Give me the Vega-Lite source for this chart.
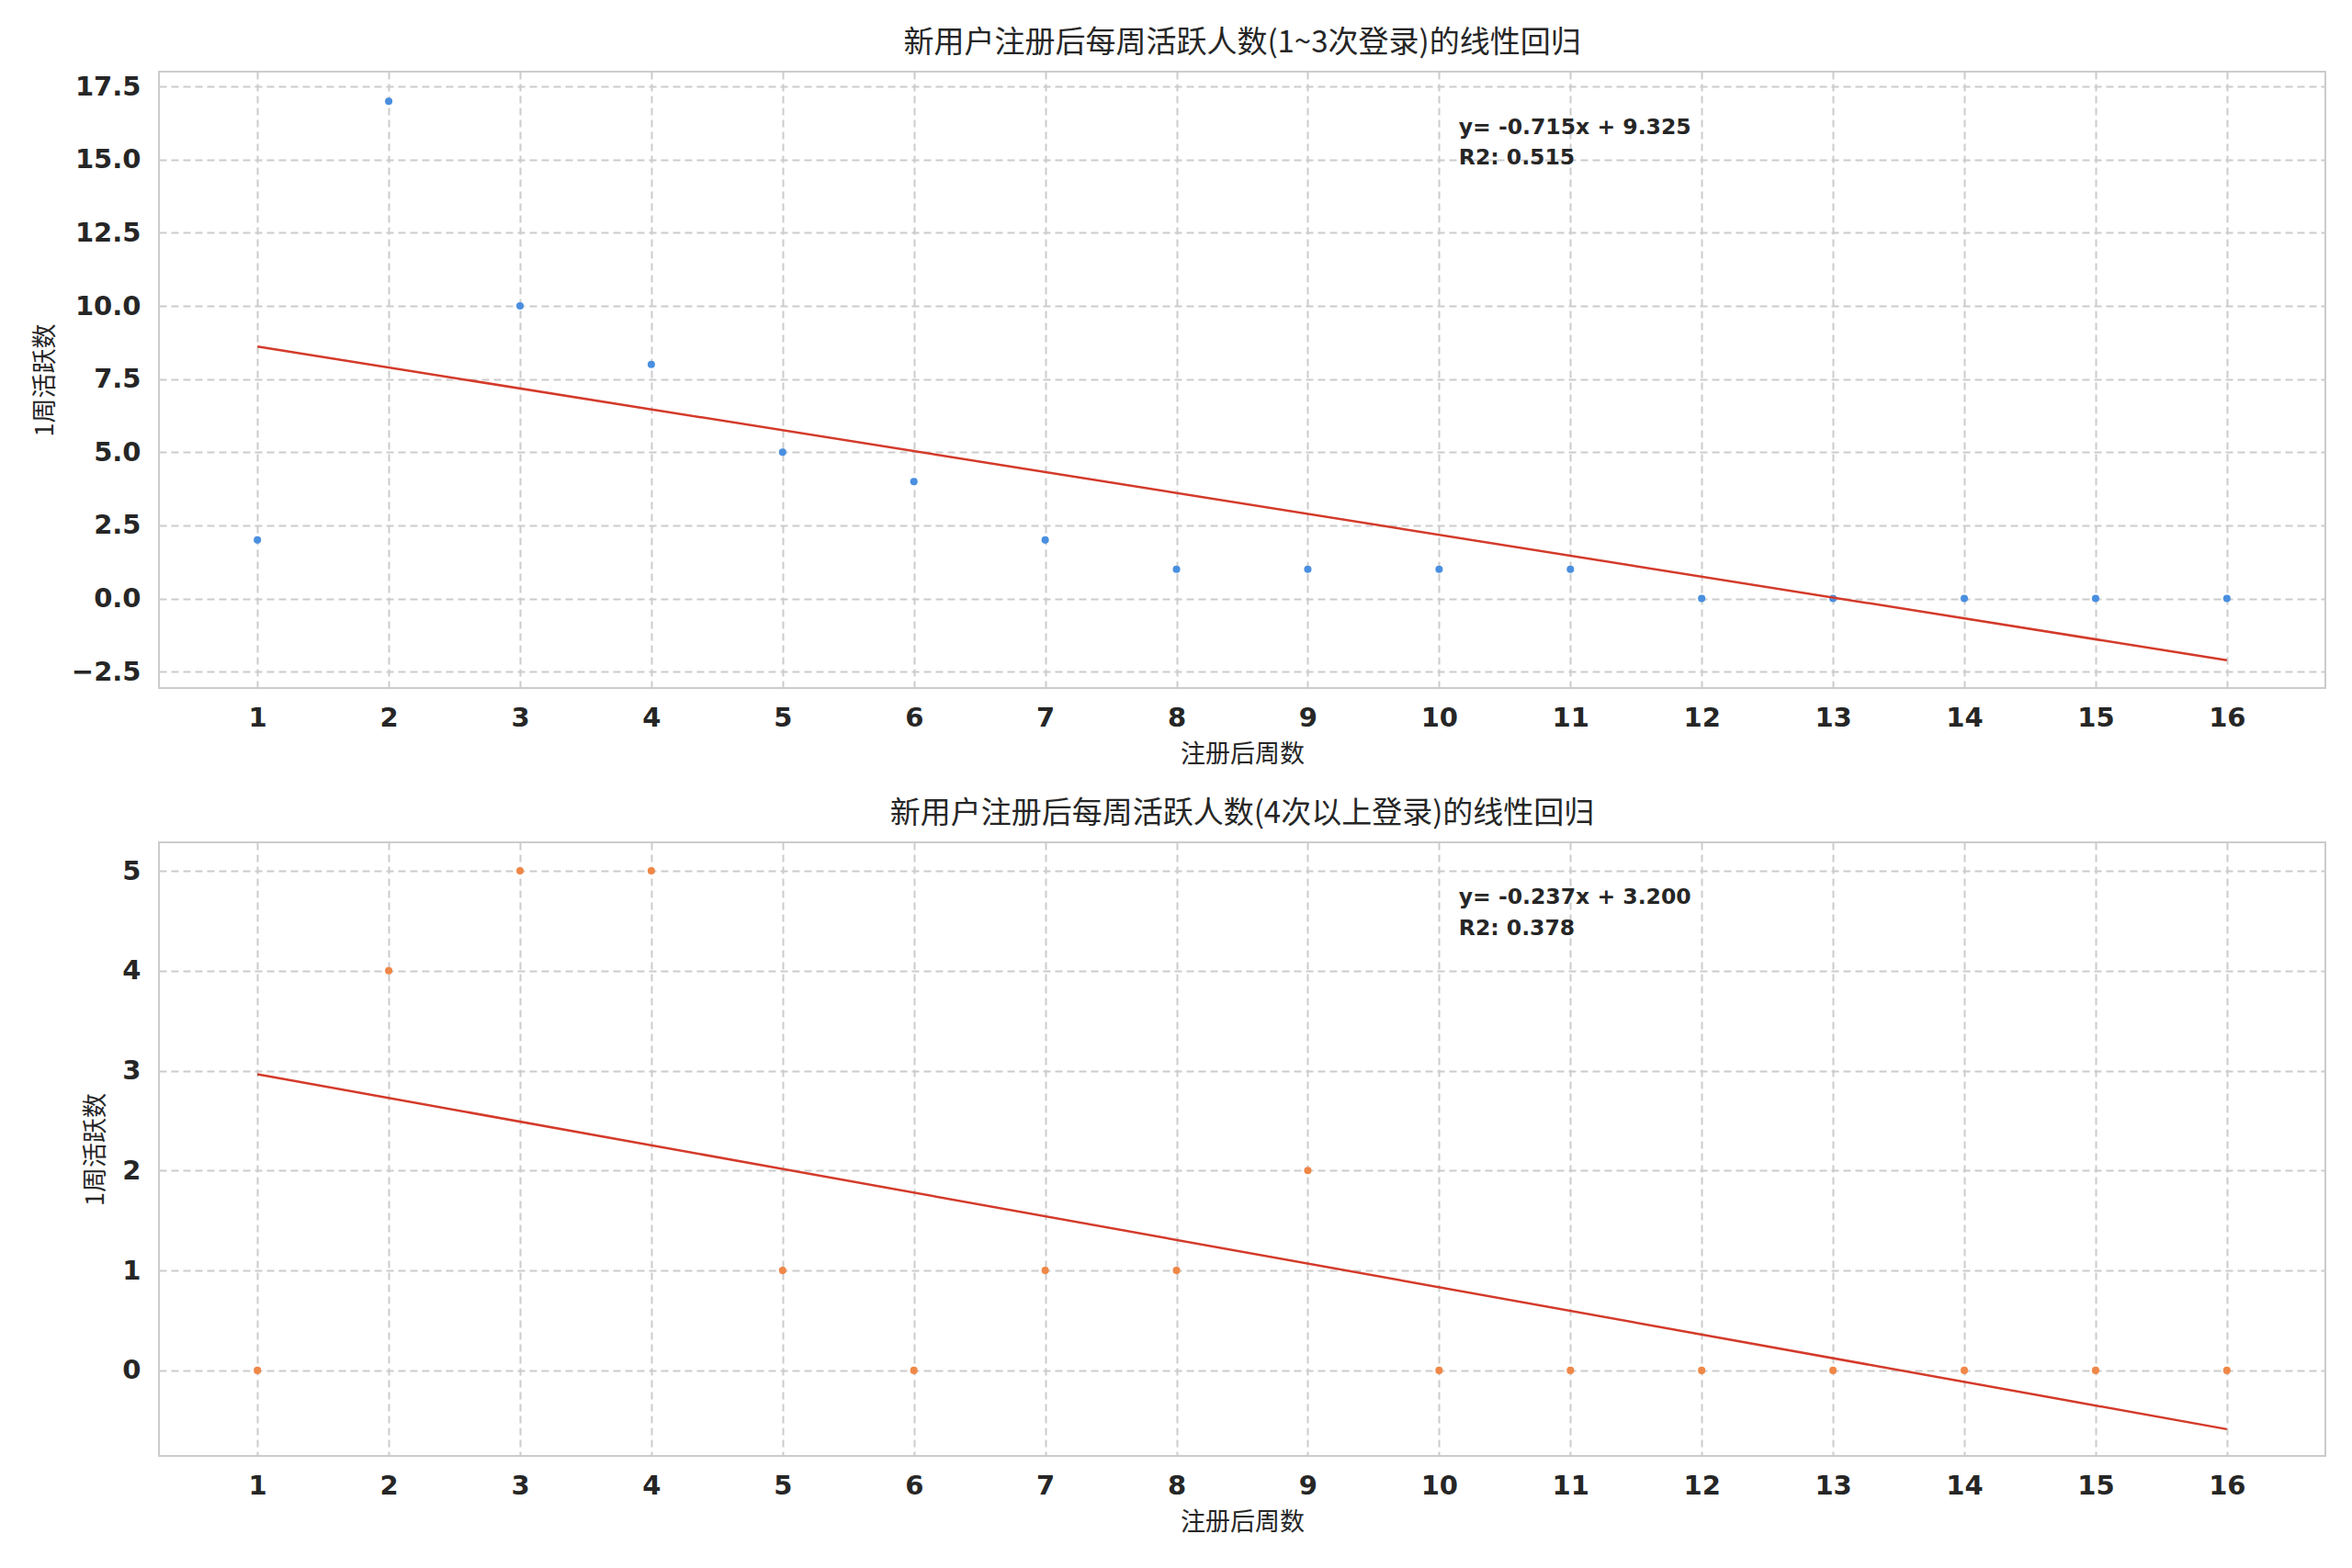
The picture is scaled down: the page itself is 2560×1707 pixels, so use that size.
{
  "$schema": "https://vega.github.io/schema/vega-lite/v6.json",
  "background": "white",
  "padding": {"left": 34, "top": 30, "right": 25, "bottom": 10},
  "spacing": 34,
  "config": {
    "view": {"stroke": "#cccccc", "strokeWidth": 2},
    "axis": {
      "grid": true, "gridColor": "#cccccc", "gridDash": [8, 5], "gridWidth": 2,
      "domain": false, "ticks": false,
      "labelFont": "DejaVu Sans", "labelFontWeight": "bold", "labelFontSize": 29, "labelColor": "#262626",
      "titleFont": "Noto Sans CJK SC", "titleFontWeight": "normal", "titleFontSize": 27, "titleColor": "#262626"
    },
    "title": {"font": "Noto Sans CJK SC", "fontSize": 33, "fontWeight": "normal", "color": "#262626", "offset": 14}
  },
  "datasets": {
    "low": [
      {"week": 1, "count": 2}, {"week": 2, "count": 17}, {"week": 3, "count": 10}, {"week": 4, "count": 8},
      {"week": 5, "count": 5}, {"week": 6, "count": 4}, {"week": 7, "count": 2}, {"week": 8, "count": 1},
      {"week": 9, "count": 1}, {"week": 10, "count": 1}, {"week": 11, "count": 1}, {"week": 12, "count": 0},
      {"week": 13, "count": 0}, {"week": 14, "count": 0}, {"week": 15, "count": 0}, {"week": 16, "count": 0}
    ],
    "high": [
      {"week": 1, "count": 0}, {"week": 2, "count": 4}, {"week": 3, "count": 5}, {"week": 4, "count": 5},
      {"week": 5, "count": 1}, {"week": 6, "count": 0}, {"week": 7, "count": 1}, {"week": 8, "count": 1},
      {"week": 9, "count": 2}, {"week": 10, "count": 0}, {"week": 11, "count": 0}, {"week": 12, "count": 0},
      {"week": 13, "count": 0}, {"week": 14, "count": 0}, {"week": 15, "count": 0}, {"week": 16, "count": 0}
    ],
    "notes": [
      {"panel": "low", "week": 10.15, "count": 16.1, "label": "y= -0.715x + 9.325"},
      {"panel": "low", "week": 10.15, "count": 15.05, "label": "R2: 0.515"},
      {"panel": "high", "week": 10.15, "count": 4.73, "label": "y= -0.237x + 3.200"},
      {"panel": "high", "week": 10.15, "count": 4.42, "label": "R2: 0.378"}
    ]
  },
  "vconcat": [
    {
      "title": "新用户注册后每周活跃人数(1~3次登录)的线性回归",
      "width": 2358, "height": 671,
      "layer": [
        {
          "data": {"name": "low"},
          "mark": {"type": "point", "filled": true, "size": 65, "opacity": 1, "color": "#4a8fdf"},
          "encoding": {
            "x": {"field": "week", "type": "quantitative", "title": "注册后周数",
                  "scale": {"domain": [0.25, 16.75], "nice": false, "zero": false},
                  "axis": {"values": [1,2,3,4,5,6,7,8,9,10,11,12,13,14,15,16], "format": "d", "labelPadding": 18, "titlePadding": 12}},
            "y": {"field": "count", "type": "quantitative", "title": "1周活跃数",
                  "scale": {"domain": [-3.06, 18.01], "nice": false, "zero": false},
                  "axis": {"values": [-2.5, 0, 2.5, 5, 7.5, 10, 12.5, 15, 17.5], "format": ".1f", "labelPadding": 20, "titlePadding": 14}}
          }
        },
        {
          "data": {"name": "low"},
          "transform": [{"regression": "count", "on": "week", "extent": [1, 16]}],
          "mark": {"type": "line", "color": "#d43a2a", "strokeWidth": 2.5},
          "encoding": {
            "x": {"field": "week", "type": "quantitative"},
            "y": {"field": "count", "type": "quantitative"}
          }
        },
        {
          "data": {"name": "notes"},
          "transform": [{"filter": "datum.panel == 'low'"}],
          "mark": {"type": "text", "align": "left", "baseline": "middle", "font": "DejaVu Sans", "fontWeight": "bold", "fontSize": 23.5, "color": "#262626"},
          "encoding": {
            "x": {"field": "week", "type": "quantitative"},
            "y": {"field": "count", "type": "quantitative"},
            "text": {"field": "label"}
          }
        }
      ]
    },
    {
      "title": "新用户注册后每周活跃人数(4次以上登录)的线性回归",
      "width": 2358, "height": 668,
      "layer": [
        {
          "data": {"name": "high"},
          "mark": {"type": "point", "filled": true, "size": 65, "opacity": 1, "color": "#ef8747"},
          "encoding": {
            "x": {"field": "week", "type": "quantitative", "title": "注册后周数",
                  "scale": {"domain": [0.25, 16.75], "nice": false, "zero": false},
                  "axis": {"values": [1,2,3,4,5,6,7,8,9,10,11,12,13,14,15,16], "format": "d", "labelPadding": 18, "titlePadding": 12}},
            "y": {"field": "count", "type": "quantitative", "title": "1周活跃数",
                  "scale": {"domain": [-0.856, 5.285], "nice": false, "zero": false},
                  "axis": {"values": [0, 1, 2, 3, 4, 5], "format": "d", "labelPadding": 20, "titlePadding": 14}}
          }
        },
        {
          "data": {"name": "high"},
          "transform": [{"regression": "count", "on": "week", "extent": [1, 16]}],
          "mark": {"type": "line", "color": "#d43a2a", "strokeWidth": 2.5},
          "encoding": {
            "x": {"field": "week", "type": "quantitative"},
            "y": {"field": "count", "type": "quantitative"}
          }
        },
        {
          "data": {"name": "notes"},
          "transform": [{"filter": "datum.panel == 'high'"}],
          "mark": {"type": "text", "align": "left", "baseline": "middle", "font": "DejaVu Sans", "fontWeight": "bold", "fontSize": 23.5, "color": "#262626"},
          "encoding": {
            "x": {"field": "week", "type": "quantitative"},
            "y": {"field": "count", "type": "quantitative"},
            "text": {"field": "label"}
          }
        }
      ]
    }
  ]
}
